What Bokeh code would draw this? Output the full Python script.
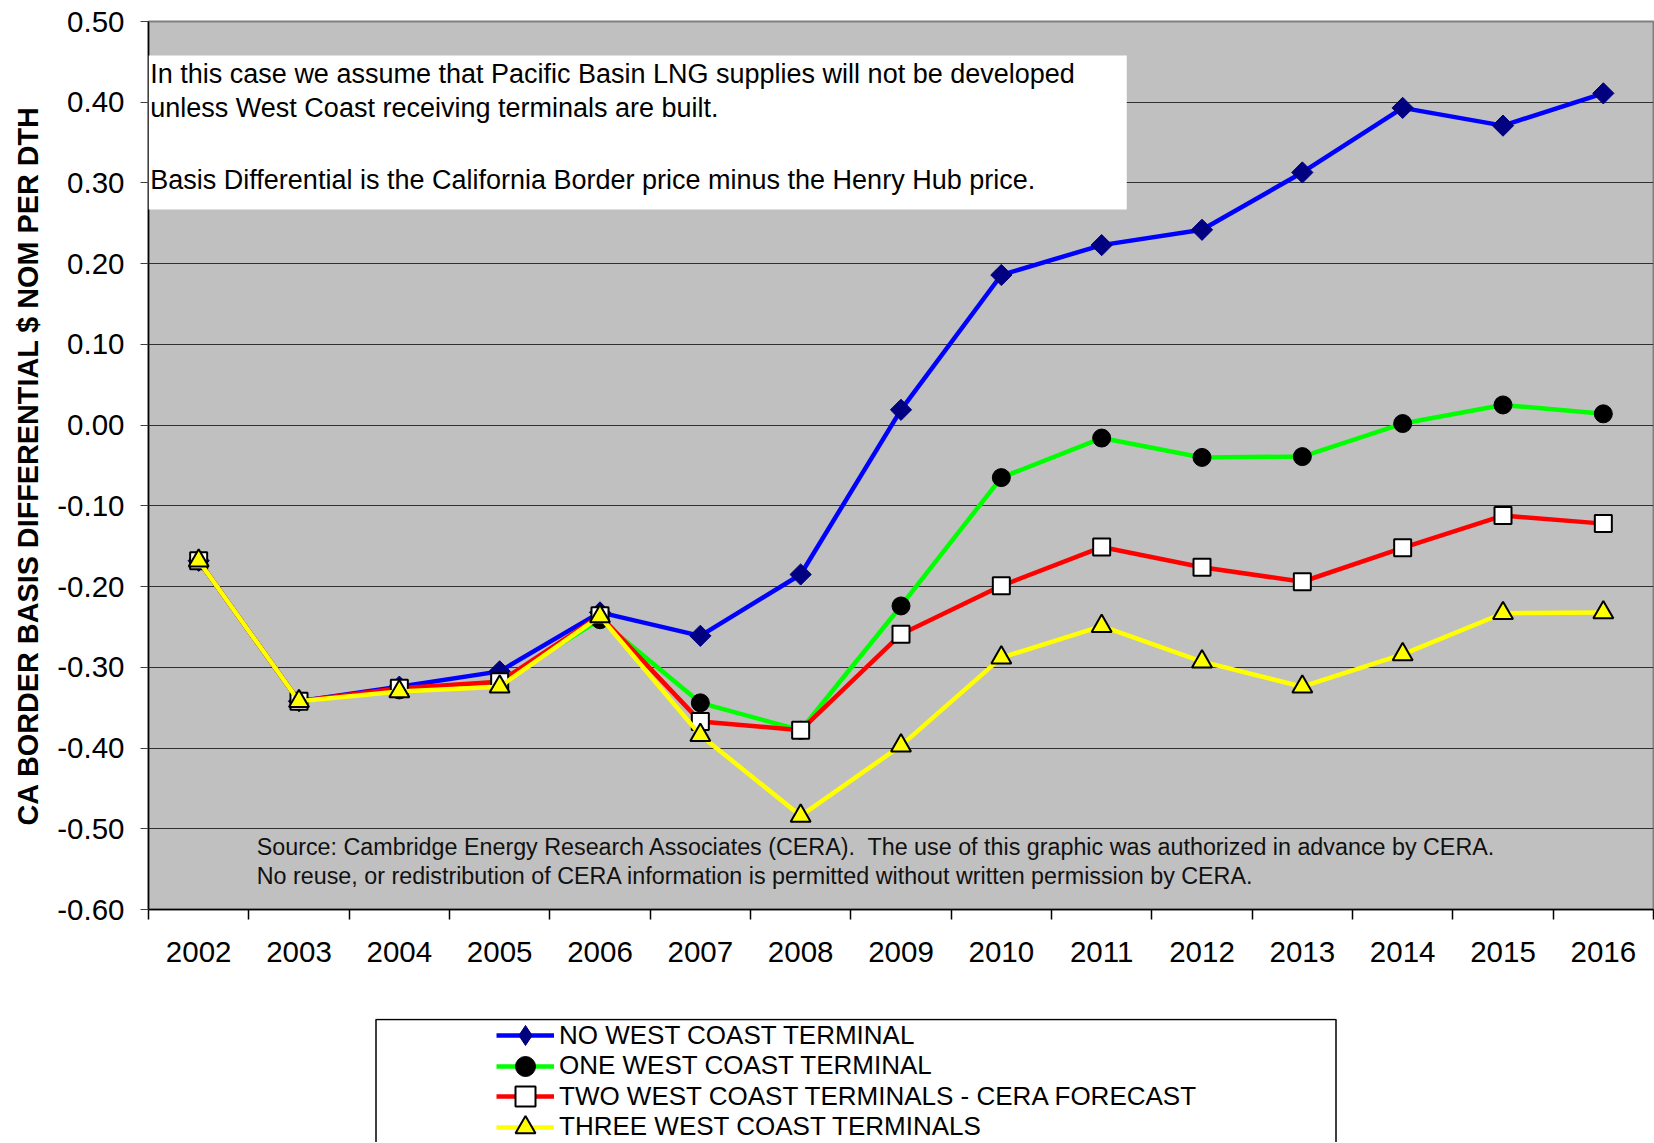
from bokeh.plotting import figure
from bokeh.layouts import column
from bokeh.models import (Range1d, FixedTicker, NumeralTickFormatter, Legend,
                          LegendItem, BoxAnnotation, Label)
from bokeh.embed import file_html
from bokeh.resources import INLINE

years = ["2002", "2003", "2004", "2005", "2006", "2007", "2008", "2009",
         "2010", "2011", "2012", "2013", "2014", "2015", "2016"]
no_terminal = [-0.168, -0.342, -0.324, -0.305, -0.232, -0.261, -0.185, 0.019,
               0.186, 0.223, 0.242, 0.313, 0.393, 0.371, 0.411]
one_terminal = [-0.168, -0.342, -0.328, -0.318, -0.241, -0.344, -0.378, -0.224,
                -0.065, -0.016, -0.040, -0.039, 0.002, 0.025, 0.014]
two_terminals = [-0.168, -0.342, -0.326, -0.318, -0.236, -0.367, -0.378, -0.259,
                 -0.199, -0.151, -0.176, -0.194, -0.152, -0.112, -0.122]
three_terminals = [-0.168, -0.342, -0.330, -0.324, -0.237, -0.384, -0.484, -0.397,
                   -0.288, -0.249, -0.293, -0.324, -0.284, -0.233, -0.232]
series_names = ["NO WEST COAST TERMINAL", "ONE WEST COAST TERMINAL",
                "TWO WEST COAST TERMINALS - CERA FORECAST", "THREE WEST COAST TERMINALS"]
y_ticks = [-0.6, -0.5, -0.4, -0.3, -0.2, -0.1, 0.0, 0.1, 0.2, 0.3, 0.4, 0.5]
y_title = "CA BORDER BASIS DIFFERENTIAL $ NOM PER DTH"
note_lines = ["In this case we assume that Pacific Basin LNG supplies will not be developed",
              "unless West Coast receiving terminals are built.",
              "Basis Differential is the California Border price minus the Henry Hub price."]
source_lines = ["Source: Cambridge Energy Research Associates (CERA).\u00a0 The use of this graphic was authorized in advance by CERA.",
                "No reuse, or redistribution of CERA information is permitted without written permission by CERA."]

FONT = "Liberation Sans"
x = list(range(len(years)))

p = figure(width=1654, height=1018, output_backend="svg", toolbar_location=None,
           x_range=Range1d(-0.5, len(years) - 0.5), y_range=Range1d(-0.6, 0.5),
           min_border_left=148, min_border_right=1, min_border_top=21,
           min_border_bottom=109)
p.background_fill_color = "#C0C0C0"
p.border_fill_color = "white"
p.outline_line_color = "#808080"
p.outline_line_width = 2
p.xgrid.visible = False
p.ygrid.ticker = FixedTicker(ticks=y_ticks)
p.ygrid.grid_line_color = "#303030"
p.ygrid.grid_line_width = 1

# y axis
ya = p.yaxis[0]
ya.ticker = FixedTicker(ticks=y_ticks)
ya.formatter = NumeralTickFormatter(format="0.00")
ya.major_label_text_font = FONT
ya.major_label_text_font_size = "29.5px"
ya.major_label_text_color = "black"
ya.major_tick_out = 8
ya.major_tick_in = 0
ya.major_tick_line_color = "#404040"
ya.minor_tick_line_color = None
ya.major_label_standoff = 16
ya.axis_line_color = "black"
ya.axis_line_width = 1.5
ya.axis_label = y_title
ya.axis_label_text_font = FONT
ya.axis_label_text_font_style = "bold"
ya.axis_label_text_font_size = "28.8px"
ya.axis_label_text_color = "black"
ya.axis_label_standoff = 10

# x axis: labels at category centres, ticks at category boundaries
xa = p.xaxis[0]
xa.ticker = FixedTicker(ticks=x, minor_ticks=[i - 0.5 for i in range(len(years) + 1)])
xa.major_label_overrides = {i: yr for i, yr in zip(x, years)}
xa.major_label_text_font = FONT
xa.major_label_text_font_size = "29.5px"
xa.major_label_text_color = "black"
xa.major_tick_out = 0
xa.major_tick_in = 0
xa.major_tick_line_color = None
xa.minor_tick_out = 10
xa.minor_tick_in = 0
xa.minor_tick_line_color = "black"
xa.minor_tick_line_width = 1.5
xa.major_label_standoff = 22
xa.axis_line_color = "black"
xa.axis_line_width = 1.5

line_colors = ["#0000FF", "#00FF00", "#FF0000", "#FFFF00"]
series = [no_terminal, one_terminal, two_terminals, three_terminals]
marker_specs = [
    dict(marker="square", angle=0.785398, size=15, fill_color="#000080", line_color="#000080", line_width=1),
    dict(marker="circle", size=18, fill_color="black", line_color="black", line_width=1),
    dict(marker="square", size=17, fill_color="white", line_color="black", line_width=2),
    dict(marker="triangle", size=20, fill_color="#FFFF00", line_color="black", line_width=2),
]
legend_marker_specs = [
    dict(marker="diamond", fill_color="#000080", line_color="#000080", line_width=1),
    dict(marker="circle", fill_color="black", line_color="black", line_width=1),
    dict(marker="square", fill_color="white", line_color="black", line_width=2),
    dict(marker="triangle", fill_color="#FFFF00", line_color="black", line_width=2),
]

for vals, col, ms in zip(series, line_colors, marker_specs):
    p.line(x, vals, line_color=col, line_width=4.5)
    p.scatter(x, vals, **ms)

# note box
note_box = BoxAnnotation(left=-0.5, right=9.25, top=0.458, bottom=0.267,
                         fill_color="white", fill_alpha=1.0, line_color=None)
p.add_layout(note_box)
for txt, yy in zip(note_lines, [0.4346, 0.3928, 0.3039]):
    p.add_layout(Label(x=-0.482, y=yy, text=txt, text_baseline="middle",
                       text_font=FONT, text_font_size="27px", text_color="black"))
for txt, yy in zip(source_lines, [-0.522, -0.559]):
    p.add_layout(Label(x=0.579, y=yy, text=txt, text_baseline="middle",
                       text_font=FONT, text_font_size="23.3px", text_color="#111111"))

# legend strip below the chart (same side borders as the chart, so frames align)
lg = figure(width=1654, height=124, output_backend="svg", toolbar_location=None,
            x_range=Range1d(148, 1653), y_range=Range1d(0, 124),
            min_border_left=148, min_border_right=1, min_border_top=0,
            min_border_bottom=0)
lg.axis.visible = False
lg.grid.visible = False
lg.background_fill_color = "white"
lg.border_fill_color = "white"
lg.outline_line_color = None

legend_frame = BoxAnnotation(left=375.5, right=1335.5, top=123.0, bottom=-60,
                             fill_color="white", fill_alpha=1.0,
                             line_color="black", line_alpha=1.0, line_width=1.5)
lg.add_layout(legend_frame)

# one single-item legend per row, so the legend markers can be drawn large
nan = float("nan")
row_offsets = [82.0, 51.4, 20.8, -9.8]
for name, col, ms, vy in zip(series_names, line_colors, legend_marker_specs, row_offsets):
    lr = lg.line([nan], [nan], line_color=col, line_width=4.5)
    mr = lg.scatter([nan], [nan], **ms)
    leg = Legend(items=[LegendItem(label=name, renderers=[lr, mr])],
                 location=(348, vy), orientation="vertical",
                 glyph_width=58, glyph_height=50, label_height=30,
                 label_standoff=5, spacing=0, padding=0, margin=0,
                 border_line_alpha=0, background_fill_alpha=0,
                 label_text_font=FONT, label_text_font_size="26px",
                 label_text_color="black")
    lg.add_layout(leg, "center")

layout = column(p, lg, spacing=0)
open("out.html", "w").write(file_html(layout, INLINE))
